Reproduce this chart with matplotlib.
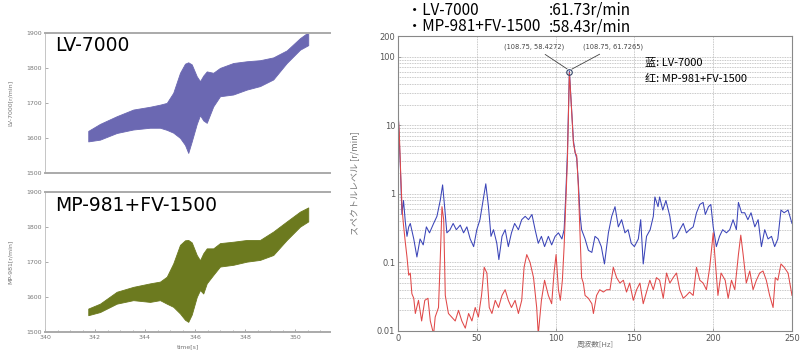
import matplotlib

matplotlib.use("Agg")
import matplotlib.pyplot as plt
from matplotlib.ticker import FixedLocator, LogLocator, NullFormatter

plt.rcParams["font.family"] = ["DejaVu Sans", "Noto Sans CJK JP"]
CJK = ["Noto Sans CJK JP", "DejaVu Sans"]

# time-domain bands (upper / lower envelope of the rotation speed)
time_s = [341.73, 342.2, 342.87, 343.53, 344.2, 344.6, 344.87, 345.13, 345.4, 345.6,
          345.73, 345.87, 346.07, 346.2, 346.33, 346.47, 346.73, 347.0, 347.53, 348.07,
          348.6, 349.13, 349.67, 350.2, 350.53]
lv_upper = [1620, 1640, 1662, 1681, 1689, 1695, 1700, 1729, 1786, 1812,
            1816, 1810, 1776, 1762, 1778, 1790, 1786, 1800, 1814, 1819,
            1822, 1830, 1850, 1885, 1902]
lv_lower = [1590, 1595, 1614, 1624, 1629, 1629, 1623, 1615, 1600, 1580,
            1557, 1590, 1640, 1665, 1650, 1643, 1690, 1719, 1724, 1738,
            1748, 1767, 1814, 1852, 1865]
mp_upper = [1567, 1581, 1615, 1629, 1639, 1644, 1658, 1696, 1749, 1762,
            1763, 1756, 1720, 1705, 1725, 1739, 1739, 1754, 1758, 1763,
            1763, 1787, 1816, 1844, 1856]
mp_lower = [1548, 1557, 1581, 1591, 1586, 1591, 1581, 1572, 1553, 1535,
            1529, 1550, 1600, 1620, 1610, 1639, 1663, 1687, 1692, 1701,
            1706, 1720, 1763, 1801, 1816]

# spectra
blue_f = [0, 1.5, 2.5, 3.5, 4.6, 5.7, 6.8, 7.8, 10, 12, 14, 16, 18, 20, 22.6, 24.7,
          26.8, 28.3, 29.6, 31, 33, 35, 37, 39.5, 41.6, 43.7, 45.8, 48, 50, 52, 54,
          55.7, 57.4, 59, 60.6, 62.7, 64, 66, 68, 70, 72, 74, 76.4, 78.5, 80.7, 82.8,
          85, 87, 89, 91, 93, 95.4, 97.5, 99.7, 101.8, 104, 105.4, 106.4, 107.5,
          108.75, 110, 111.3, 112.4, 113.4, 114.4, 115.5, 116.5, 118.7, 120.8, 123,
          125, 127, 129, 131, 133.5, 135.6, 137.7, 139.8, 141.9, 144, 146, 148, 150,
          152.5, 154, 155.6, 157.7, 160, 162, 163, 165, 166, 168, 170, 172.5, 174.6,
          176.7, 178.8, 181, 183, 185, 187.3, 189.4, 191.5, 193.6, 195, 197, 198.5,
          200, 202, 204, 206, 208.4, 210.5, 212.6, 214.7, 216, 218, 220, 222, 224,
          226.4, 228.5, 230.6, 232.7, 234.8, 237, 239, 241, 243, 245, 247.5, 250]
blue_v = [18, 2.5, 0.5, 0.8, 0.4, 0.24, 0.33, 0.37, 0.22, 0.12, 0.22, 0.18, 0.33, 0.27,
          0.37, 0.47, 0.8, 1.35, 0.64, 0.27, 0.3, 0.37, 0.3, 0.35, 0.27, 0.33, 0.22,
          0.17, 0.3, 0.42, 0.8, 1.4, 0.65, 0.24, 0.3, 0.19, 0.11, 0.24, 0.3, 0.17, 0.27,
          0.37, 0.3, 0.42, 0.47, 0.42, 0.5, 0.3, 0.19, 0.24, 0.17, 0.24, 0.18, 0.24,
          0.27, 0.22, 0.3, 0.9, 4.0, 61.73, 20, 6, 4, 3.3, 1.5, 0.5, 0.3, 0.22, 0.15,
          0.14, 0.24, 0.22, 0.17, 0.095, 0.27, 0.47, 0.65, 0.33, 0.42, 0.27, 0.3, 0.19,
          0.17, 0.22, 0.42, 0.095, 0.24, 0.3, 0.47, 0.9, 0.65, 0.9, 0.58, 0.8, 0.47,
          0.22, 0.24, 0.3, 0.37, 0.27, 0.3, 0.33, 0.53, 0.7, 0.75, 0.5, 0.65, 0.7,
          0.33, 0.17, 0.24, 0.3, 0.27, 0.3, 0.42, 0.3, 0.75, 0.53, 0.53, 0.42, 0.53,
          0.33, 0.42, 0.17, 0.3, 0.22, 0.24, 0.17, 0.22, 0.58, 0.53, 0.58, 0.37]

red_f = [0, 0.8, 1.7, 2.6, 3.5, 4.6, 5.7, 6.8, 7.8, 8.8, 10, 11, 13, 15, 17, 19, 20.5,
         22.6, 23.6, 25.7, 26.8, 27.9, 29, 30, 32, 34, 36.3, 38.4, 40.5, 42.7, 44.8,
         46.9, 49, 51, 53, 54.7, 56.4, 57.9, 59.6, 61.7, 63.8, 66, 68, 70, 72, 74.3,
         76.4, 78.5, 80, 81.7, 83.8, 86, 88, 89, 91, 93, 95.4, 97.5, 99, 100.3, 101.8,
         103, 104.3, 105.4, 106.4, 107.5, 108.75, 110, 111.3, 112.4, 113.4, 114.4,
         115.5, 116.5, 117.6, 118.7, 120.8, 123, 124, 126, 128, 130.3, 132.4, 134.5,
         136.6, 138.7, 140.8, 143, 145, 147, 149.3, 151.4, 153.5, 155.6, 157.7, 159.8,
         162, 164, 166, 168.3, 170.4, 172.5, 174.6, 176.7, 178.8, 181, 183, 185, 187.3,
         189.4, 191.5, 193.6, 195.7, 197.8, 200, 201, 203, 205, 207.6, 209.5, 211.6,
         213.7, 216, 217.5, 219, 221, 223.2, 225.3, 227.4, 229.5, 231.6, 233.7, 235.8,
         238, 239.4, 241, 243, 245, 247.5, 250]
red_v = [15, 8, 2, 0.6, 0.35, 0.2, 0.12, 0.065, 0.07, 0.035, 0.03, 0.018, 0.028, 0.014,
         0.028, 0.03, 0.014, 0.009, 0.016, 0.022, 0.11, 0.65, 0.42, 0.033, 0.018, 0.016,
         0.014, 0.02, 0.014, 0.011, 0.018, 0.014, 0.022, 0.016, 0.033, 0.085, 0.07,
         0.022, 0.018, 0.028, 0.022, 0.033, 0.04, 0.028, 0.022, 0.028, 0.018, 0.028,
         0.085, 0.13, 0.1, 0.06, 0.022, 0.009, 0.028, 0.055, 0.033, 0.025, 0.07, 0.13,
         0.04, 0.028, 0.055, 0.17, 0.65, 3.1, 58.43, 19, 5.5, 4.0, 3.6, 1.3, 0.27,
         0.06, 0.05, 0.033, 0.03, 0.025, 0.018, 0.033, 0.04, 0.037, 0.04, 0.04, 0.085,
         0.06, 0.05, 0.055, 0.037, 0.05, 0.028, 0.04, 0.05, 0.025, 0.037, 0.055, 0.04,
         0.06, 0.055, 0.03, 0.07, 0.05, 0.06, 0.07, 0.04, 0.03, 0.033, 0.037, 0.033,
         0.085, 0.055, 0.05, 0.04, 0.085, 0.27, 0.13, 0.033, 0.07, 0.055, 0.03, 0.055,
         0.04, 0.13, 0.25, 0.13, 0.05, 0.075, 0.04, 0.055, 0.07, 0.075, 0.055, 0.033,
         0.022, 0.06, 0.055, 0.095, 0.085, 0.07, 0.033]

peak_f = 108.75
peak_blue = 61.7265
peak_red = 58.4272

GRAY = "#8a8a8a"
TXT = "#777777"

fig = plt.figure(figsize=(8, 3.5), dpi=100)


def time_panel(rect, upper, lower, color, name, ylab, show_x):
    ax = fig.add_axes(rect)
    ax.fill_between(time_s, lower, upper, color=color, lw=0.6, edgecolor=color)
    ax.set_xlim(340, 351.4)
    ax.set_ylim(1500, 1900)
    ax.set_yticks([1500, 1600, 1700, 1800, 1900])
    ax.set_xticks([340, 342, 344, 346, 348, 350])
    ax.set_xticks([340.5 + 0.5 * i for i in range(22)], minor=True)
    ax.tick_params(labelsize=4.5, colors=GRAY, length=2, width=0.5, direction="in",
                   labelcolor=TXT, pad=2)
    ax.tick_params(which="minor", length=1.5, width=0.5, colors=GRAY, direction="in")
    ax.spines["right"].set_visible(False)
    ax.spines["left"].set_color("#bbbbbb")
    ax.spines["left"].set_linewidth(0.6)
    for s in ("top", "bottom"):
        ax.spines[s].set_color("#aaaaaa")
        ax.spines[s].set_linewidth(1.4)
    if not show_x:
        ax.tick_params(axis="x", which="both", labelbottom=False, length=0)
    else:
        ax.set_xlabel("time[s]", fontsize=4.5, color=TXT, labelpad=3)
    ax.set_ylabel(ylab, fontsize=4.5, color=TXT, labelpad=10)
    ax.text(0.035, 0.975, name, transform=ax.transAxes, fontsize=13.5,
            va="top", ha="left", color="black")
    return ax


time_panel([0.05625, 0.506, 0.35625, 0.40], lv_upper, lv_lower, "#6b68b2",
           "LV-7000", "LV-7000[r/min]", False)
time_panel([0.05625, 0.0514, 0.35625, 0.40], mp_upper, mp_lower, "#6c7a1f",
           "MP-981+FV-1500", "MP-981[r/min]", True)

# spectrum panel
ax = fig.add_axes([0.4975, 0.0543, 0.4925, 0.8427])
ax.plot(blue_f, blue_v, color="#3a44b8", lw=0.75)
ax.plot(red_f, red_v, color="#e04848", lw=0.75)
ax.set_yscale("log")
ax.set_xlim(0, 250)
ax.set_ylim(0.01, 200)
ax.yaxis.set_major_locator(FixedLocator([0.01, 0.1, 1, 10, 100, 200]))
ax.set_yticklabels(["0.01", "0.1", "1", "10", "100", "200"])
ax.yaxis.set_minor_locator(LogLocator(base=10, subs=range(2, 10)))
ax.yaxis.set_minor_formatter(NullFormatter())
ax.set_xticks([0, 50, 100, 150, 200, 250])
ax.grid(which="both", axis="y", color="#b5b5b5", ls=(0, (1, 1)), lw=0.6)
ax.grid(which="major", axis="x", color="#b5b5b5", ls=(0, (1, 1)), lw=0.6)
ax.tick_params(labelsize=6, colors=GRAY, labelcolor="#555555", length=2, width=0.5,
               direction="in", pad=2)
ax.tick_params(which="minor", length=0)
for s in ax.spines.values():
    s.set_color("#888888")
    s.set_linewidth(0.8)
ax.set_xlabel("周波数[Hz]", fontsize=5.5, color=TXT, family=CJK, labelpad=-1)
ax.set_ylabel("スペクトルレベル [r/min]", fontsize=6.5, color=TXT, family=CJK, labelpad=12)

ax.plot([peak_f], [(peak_blue + peak_red) / 2], marker="o", ms=4, mfc="none",
        mec="#334466", mew=0.8)
ax.annotate(f"({peak_f}, {peak_red})", xy=(peak_f, 63), xytext=(-4, 17),
            textcoords="offset points", ha="right", va="center", fontsize=4.8,
            color="#444444", arrowprops=dict(arrowstyle="-", color="#444444", lw=0.6))
ax.annotate(f"({peak_f}, {peak_blue})", xy=(peak_f, 63), xytext=(10, 17),
            textcoords="offset points", ha="left", va="center", fontsize=4.8,
            color="#444444", arrowprops=dict(arrowstyle="-", color="#444444", lw=0.6))

fig.text(0.806, 0.82, "蓝: LV-7000", fontsize=8, family=CJK, va="center")
fig.text(0.806, 0.774, "红: MP-981+FV-1500", fontsize=8, family=CJK, va="center")

fig.text(0.509, 0.971, "・LV-7000", fontsize=11, family=CJK, va="center")
fig.text(0.686, 0.971, ":61.73r/min", fontsize=11, family=CJK, va="center")
fig.text(0.509, 0.923, "・MP-981+FV-1500", fontsize=11, family=CJK, va="center")
fig.text(0.686, 0.923, ":58.43r/min", fontsize=11, family=CJK, va="center")

fig.savefig("out.png", dpi=100)
